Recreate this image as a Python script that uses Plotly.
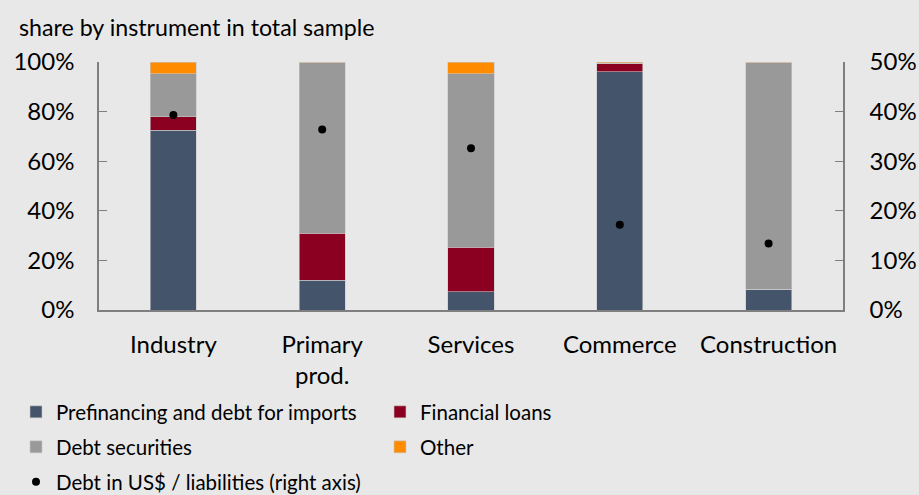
import plotly.graph_objects as go

categories = ["Industry", "Primary<br>prod.", "Services", "Commerce", "Construction"]
prefinancing = [72.5, 12.0, 7.4, 96.1, 8.3]
financial_loans = [5.5, 18.9, 17.9, 3.4, 0.0]
debt_securities = [17.3, 68.8, 70.0, 0.0, 91.5]
other = [4.7, 0.3, 4.7, 0.5, 0.2]
usd_share = [39.3, 36.4, 32.6, 17.2, 13.4]

left_ticks = [0, 20, 40, 60, 80, 100]
right_ticks = [0, 10, 20, 30, 40, 50]

FONT = "Lato"
BG = "#e8e8e8"
AXIS = "#7f7f7f"

fig = go.Figure()
series = [
    ("Prefinancing and debt for imports", prefinancing, "#44546a", "legend"),
    ("Financial loans", financial_loans, "#8b0020", "legend"),
    ("Debt securities", debt_securities, "#999999", "legend2"),
    ("Other", other, "#ff8c00", "legend2"),
]
for name, vals, col, lg in series:
    fig.add_trace(go.Bar(
        x=categories, y=vals, name=name, marker_color=col,
        marker_line=dict(color="#c8c8c8", width=0.6), width=0.31,
        legend=lg,
    ))
fig.add_trace(go.Scatter(
    x=categories, y=usd_share, name="Debt in US$ / liabilities (right axis)",
    mode="markers", marker=dict(color="black", size=8), yaxis="y2",
    legend="legend3",
))

def leg(ypix):
    return dict(
        orientation="h", x=16 / 919, y=1 - ypix / 495, xanchor="left", yanchor="middle",
        xref="container", yref="container",
        entrywidth=319, entrywidthmode="pixels",
        font=dict(size=20.5, family=FONT), bgcolor="rgba(0,0,0,0)",
        traceorder="normal", itemwidth=30,
    )

fig.update_layout(
    barmode="stack",
    width=919, height=495,
    paper_bgcolor=BG, plot_bgcolor=BG,
    margin=dict(l=99, r=76, t=62, b=185, autoexpand=False),
    font=dict(family=FONT, size=24, color="#000000"),
    xaxis=dict(
        showline=True, linecolor=AXIS, linewidth=1.5, ticks="",
        tickfont=dict(size=24), showgrid=False, ticklabelstandoff=12,
        automargin=False,
    ),
    yaxis=dict(
        range=[0, 100], tickvals=left_ticks,
        ticktext=[f"{v}%" for v in left_ticks],
        showline=True, linecolor=AXIS, linewidth=1.5,
        ticks="inside", ticklen=8, tickcolor=AXIS, showgrid=False,
        zeroline=False, ticklabelstandoff=18, tickfont=dict(size=24),
        automargin=False,
    ),
    yaxis2=dict(
        range=[0, 50], tickvals=right_ticks,
        ticktext=[f"{v}%" for v in right_ticks],
        overlaying="y", side="right",
        showline=True, linecolor=AXIS, linewidth=1.5,
        ticks="inside", ticklen=8, tickcolor=AXIS, showgrid=False,
        zeroline=False, ticklabelstandoff=20, tickfont=dict(size=24),
        automargin=False,
    ),
    legend=leg(412), legend2=leg(447), legend3=leg(482),
    showlegend=True,
    annotations=[dict(
        text="share by instrument in total sample", xref="paper", yref="paper",
        x=-0.11, y=1.141, xanchor="left", yanchor="middle", showarrow=False,
        font=dict(size=23.2),
    )],
)

fig.write_html("out.html")
